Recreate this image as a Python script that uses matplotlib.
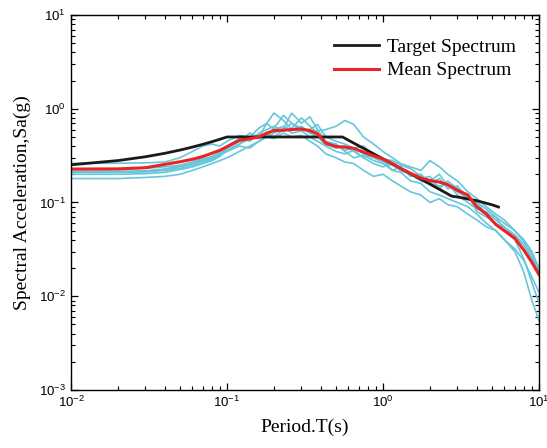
import numpy as np
import matplotlib.pyplot as plt

# periods (s)
T_target = [0.01, 0.02, 0.03, 0.04, 0.05, 0.06, 0.07, 0.08, 0.09, 0.10, 0.55,
            0.7, 0.8, 1.0, 1.2, 1.5, 2.0, 2.5, 2.75, 3.0, 4.0, 5.0, 5.5]
Sa_target = [0.2525, 0.28, 0.3075, 0.335, 0.3625, 0.39, 0.4175, 0.445, 0.4725, 0.5, 0.5,
             0.402, 0.357, 0.292, 0.248, 0.203, 0.157, 0.128, 0.117, 0.1145, 0.1045, 0.0945, 0.0895]

T = [0.01, 0.02, 0.03, 0.04, 0.05, 0.06, 0.07, 0.08, 0.09, 0.10, 0.12, 0.14, 0.16, 0.18,
     0.20, 0.23, 0.26, 0.30, 0.34, 0.38, 0.43, 0.50, 0.57, 0.65, 0.75, 0.87, 1.0, 1.15,
     1.3, 1.5, 1.75, 2.0, 2.3, 2.6, 3.0, 3.5, 4.0, 4.6, 5.3, 6.0, 7.0, 8.0, 9.0, 10.0]

Sa_mean = [0.227, 0.228, 0.235, 0.255, 0.272, 0.289, 0.31, 0.335, 0.36, 0.394, 0.46, 0.48,
           0.50, 0.55, 0.585, 0.59, 0.60, 0.608, 0.585, 0.54, 0.43, 0.395, 0.39, 0.378, 0.345,
           0.315, 0.29, 0.26, 0.23, 0.205, 0.182, 0.172, 0.165, 0.155, 0.135, 0.12, 0.09,
           0.075, 0.058, 0.05, 0.0415, 0.031, 0.023, 0.017]

rec1 = [0.262, 0.262, 0.265, 0.27, 0.30, 0.35, 0.40, 0.42, 0.40, 0.45, 0.52, 0.50, 0.62, 0.70,
        0.60, 0.65, 0.55, 0.58, 0.50, 0.45, 0.40, 0.42, 0.36, 0.38, 0.33, 0.30, 0.27, 0.25,
        0.22, 0.20, 0.17, 0.16, 0.15, 0.16, 0.12, 0.10, 0.085, 0.08, 0.065, 0.055, 0.045,
        0.035, 0.025, 0.019]
rec2 = [0.21, 0.21, 0.212, 0.22, 0.23, 0.25, 0.27, 0.29, 0.33, 0.38, 0.45, 0.55, 0.50, 0.70,
        0.90, 0.75, 0.60, 0.65, 0.55, 0.50, 0.42, 0.38, 0.40, 0.35, 0.30, 0.33, 0.28, 0.22,
        0.24, 0.19, 0.20, 0.16, 0.18, 0.14, 0.15, 0.11, 0.10, 0.075, 0.07, 0.05, 0.04,
        0.025, 0.014, 0.0085]
rec3 = [0.18, 0.18, 0.185, 0.19, 0.20, 0.22, 0.24, 0.26, 0.28, 0.30, 0.35, 0.40, 0.45, 0.50,
        0.55, 0.62, 0.90, 0.70, 0.82, 0.60, 0.45, 0.42, 0.35, 0.30, 0.32, 0.28, 0.26, 0.22,
        0.21, 0.17, 0.16, 0.13, 0.12, 0.11, 0.10, 0.09, 0.075, 0.06, 0.05, 0.04, 0.03,
        0.018, 0.009, 0.0055]
rec4 = [0.21, 0.21, 0.215, 0.225, 0.24, 0.26, 0.28, 0.30, 0.33, 0.36, 0.42, 0.48, 0.52, 0.55,
        0.50, 0.60, 0.70, 0.62, 0.55, 0.58, 0.60, 0.65, 0.75, 0.68, 0.50, 0.42, 0.35, 0.30,
        0.26, 0.24, 0.22, 0.28, 0.24, 0.20, 0.17, 0.13, 0.11, 0.09, 0.075, 0.065, 0.05,
        0.04, 0.03, 0.02]
rec5 = [0.23, 0.23, 0.232, 0.24, 0.25, 0.27, 0.30, 0.28, 0.32, 0.35, 0.40, 0.38, 0.45, 0.50,
        0.48, 0.55, 0.50, 0.52, 0.45, 0.40, 0.33, 0.30, 0.27, 0.26, 0.22, 0.19, 0.20, 0.17,
        0.15, 0.13, 0.12, 0.10, 0.11, 0.095, 0.09, 0.075, 0.065, 0.055, 0.05, 0.04, 0.032,
        0.024, 0.016, 0.011]
rec6 = [0.215, 0.215, 0.218, 0.228, 0.245, 0.26, 0.29, 0.31, 0.34, 0.40, 0.48, 0.45, 0.55, 0.60,
        0.65, 0.58, 0.62, 0.80, 0.65, 0.55, 0.40, 0.35, 0.33, 0.36, 0.30, 0.26, 0.24, 0.26,
        0.22, 0.20, 0.18, 0.19, 0.14, 0.17, 0.14, 0.12, 0.08, 0.07, 0.06, 0.052, 0.045,
        0.035, 0.026, 0.018]
rec7 = [0.20, 0.20, 0.203, 0.21, 0.225, 0.24, 0.26, 0.28, 0.31, 0.36, 0.42, 0.50, 0.48, 0.52,
        0.62, 0.85, 0.70, 0.58, 0.60, 0.68, 0.50, 0.45, 0.42, 0.38, 0.40, 0.32, 0.29, 0.28,
        0.25, 0.23, 0.19, 0.17, 0.20, 0.15, 0.13, 0.11, 0.10, 0.085, 0.07, 0.06, 0.05,
        0.038, 0.028, 0.020]
records = [rec1, rec2, rec3, rec4, rec5, rec6, rec7]

fig = plt.figure(figsize=(5.47, 4.48), dpi=100)
ax = fig.add_axes([71/547, 1 - 390/448, (539 - 71)/547, (390 - 15)/448])

for r in records:
    ax.plot(T, r, color='#66C6DA', lw=1.2)
ax.plot(T_target, Sa_target, color='#1a1a1a', lw=2.0, label='Target Spectrum')
ax.plot(T, Sa_mean, color='#EE2222', lw=2.2, label='Mean Spectrum')

ax.set_xscale('log')
ax.set_yscale('log')
ax.set_xlim(1e-2, 1e1)
ax.set_ylim(1e-3, 1e1)

ax.tick_params(which='both', direction='in', top=True, right=True,
               labelsize=9.5, labelfontfamily='Liberation Sans')
ax.tick_params(which='major', length=5, width=0.9)
ax.tick_params(which='minor', length=3, width=0.8)
for s in ax.spines.values():
    s.set_linewidth(1.0)

ax.set_xlabel('Period.T(s)', family='Liberation Serif', fontsize=14, labelpad=6)
ax.set_ylabel('Spectral Acceleration,Sa(g)', family='Liberation Serif', fontsize=14, labelpad=6)

ax.legend(loc='upper right', frameon=False, prop={'family': 'Liberation Serif', 'size': 14},
          handlelength=2.3, borderaxespad=0.8, labelspacing=0.3, handletextpad=0.4)

plt.savefig('out.png', dpi=100)
